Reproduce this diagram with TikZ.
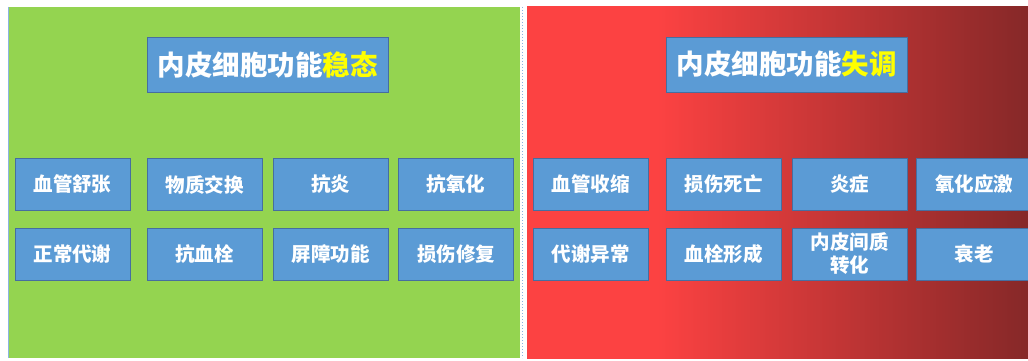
\documentclass[tikz,border=0pt]{standalone}
\usepackage{fontspec}
\newfontfamily\cjk{Noto Sans CJK SC}
\definecolor{pgreen}{RGB}{148,212,80}
\definecolor{pred}{RGB}{252,66,66}
\definecolor{pdark}{RGB}{134,40,40}
\definecolor{bfill}{RGB}{91,155,213}
\definecolor{bline}{RGB}{70,110,160}
\definecolor{sepblue}{RGB}{140,180,225}
\definecolor{ttl}{RGB}{255,255,0}
\pgfdeclarehorizontalshading{redgrad}{100bp}{color(0bp)=(pred); color(38bp)=(pred); color(75bp)=(pdark); color(100bp)=(pdark)}
\tikzset{
  cell/.style={draw=bline, line width=0.8pt, fill=bfill, minimum width=115pt, minimum height=52pt, inner sep=0pt, text=white, font=\cjk\bfseries\fontsize{19.5pt}{23pt}\selectfont, align=center},
  ttlbox/.style={draw=bline, line width=0.8pt, fill=bfill, minimum width=241pt, minimum height=55pt, inner sep=0pt, text=white, font=\cjk\bfseries\fontsize{27.5pt}{30pt}\selectfont}
}
\begin{document}
\begin{tikzpicture}[x=1pt,y=-1pt]
\useasboundingbox (0,0) rectangle (1028,361);
\fill[white] (0,0) rectangle (1028,361);
% left panel
\fill[pgreen] (8,7) rectangle (520,358);
\draw[sepblue, line width=1pt] (8.5,7) -- (8.5,358);
% separator
\draw[sepblue, line width=1pt, dotted] (522.5,7) -- (522.5,358);
% right panel
\shade[shading=redgrad] (527,7) rectangle (1028,358);
% titles
\node[ttlbox] (tl) at (267.5,64.5) {内皮细胞功能\textcolor{ttl}{稳态}};
\node[ttlbox] (tr) at (786.5,64.5) {内皮细胞功能\textcolor{ttl}{失调}};
% left grid
\node[cell] (l11) at (72.5,184.5) {血管舒张};
\node[cell] (l12) at (204.5,184.5) {物质交换};
\node[cell] (l13) at (330.5,184.5) {抗炎};
\node[cell] (l14) at (456,184.5) {抗氧化};
\node[cell] (l21) at (72.5,254) {正常代谢};
\node[cell] (l22) at (204.5,254) {抗血栓};
\node[cell] (l23) at (330.5,254) {屏障功能};
\node[cell] (l24) at (456,254) {损伤修复};
% right grid
\node[cell] (r11) at (590.5,184.5) {血管收缩};
\node[cell] (r12) at (723.5,184.5) {损伤死亡};
\node[cell] (r13) at (849.5,184.5) {炎症};
\node[cell] (r14) at (974,184.5) {氧化应激};
\node[cell] (r21) at (590.5,254) {代谢异常};
\node[cell] (r22) at (723.5,254) {血栓形成};
\node[cell] (r23) at (849.5,254) {内皮间质\\转化};
\node[cell] (r24) at (974,254) {衰老};
\end{tikzpicture}
\end{document}
